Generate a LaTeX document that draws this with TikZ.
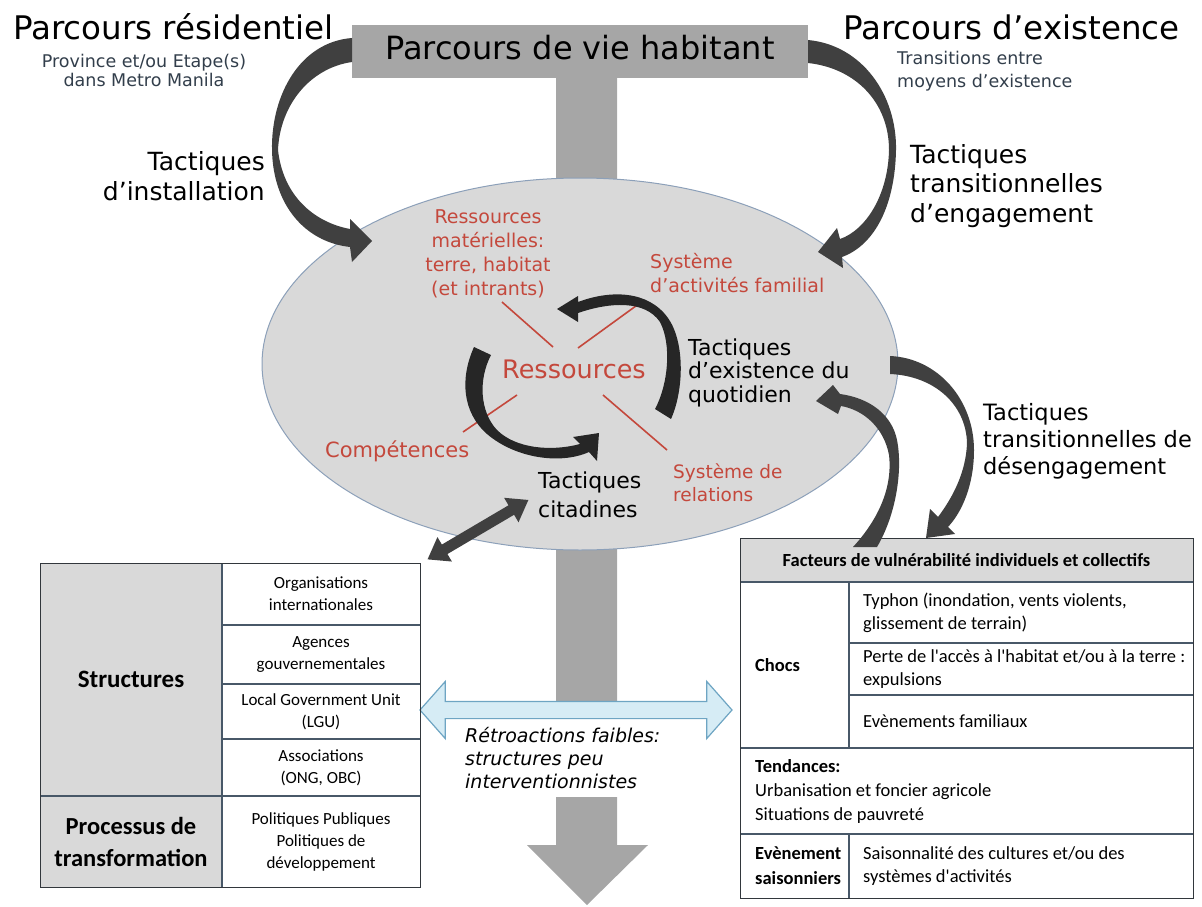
\documentclass[tikz,border=0pt]{standalone}
\usepackage{fontspec}
\setmainfont{DejaVu Sans}
\newfontfamily\tabfont{Carlito}
\usetikzlibrary{shapes.geometric,shapes.arrows,arrows.meta}

\definecolor{stemgray}{RGB}{166,166,166}
\definecolor{arcgray}{RGB}{64,64,64}
\definecolor{loopblack}{RGB}{38,38,38}
\definecolor{ellfill}{RGB}{217,217,217}
\definecolor{ellline}{RGB}{140,160,185}
\definecolor{resred}{RGB}{196,72,60}
\definecolor{subgray}{RGB}{50,62,75}
\definecolor{cellgray}{RGB}{217,217,217}
\definecolor{tabline}{RGB}{72,88,104}
\definecolor{tabdark}{RGB}{50,55,60}
\definecolor{fbblue}{RGB}{214,236,245}
\definecolor{fbline}{RGB}{110,165,195}

\begin{document}
\begin{tikzpicture}
  [x=1pt,y=-1pt,every node/.style={inner sep=0pt},
   bigtitle/.style={font=\fontsize{32.5}{38}\selectfont,anchor=base west},
   subt/.style={font=\fontsize{17.5}{20}\selectfont,text=subgray},
   tact/.style={font=\fontsize{25}{30}\selectfont},
   redlab/.style={text=resred,font=\fontsize{19}{24}\selectfont,anchor=base west,align=left},
   inlab/.style={font=\fontsize{22}{23.5}\selectfont,anchor=base west,align=left},
   band/.style={fill=arcgray},
   loopband/.style={fill=loopblack},
   redline/.style={draw=resred,line width=1.6pt},
   tabgrid/.style={draw=tabline,line width=1.2pt},
   tabbox/.style={draw=tabdark,line width=1.4pt,anchor=north west},
   lcell/.style={font=\tabfont\fontsize{17}{22}\selectfont,align=center},
   rcell/.style={font=\tabfont\fontsize{18.5}{23}\selectfont,align=left,anchor=west}]
  \useasboundingbox (0,0) rectangle (1202,907);

  % main axis
  \fill[stemgray] (556,60) -- (556,845) -- (527,845) -- (587,905) -- (648,845) -- (617,845) -- (617,60) -- cycle;
  \node[ellipse,fill=ellfill,draw=ellline,line width=1pt,minimum width=636,minimum height=372] (ell) at (580,364) {};
  \node[fill=stemgray,minimum width=456,minimum height=53,text height=23,text depth=7,
        font=\fontsize{32}{38}\selectfont] (vie) at (580,51.5) {Parcours de vie habitant};

  % parcours (base = last line)
  \node[bigtitle] (resid) at (13,40) {Parcours résidentiel};
  \node[subt,anchor=base,align=center] (residsub) at (144,87) {Province et/ou Etape(s)\\dans Metro Manila};
  \node[bigtitle] (exist) at (843,40) {Parcours d’existence};
  \node[subt,anchor=base west,align=left,font=\fontsize{17.5}{23}\selectfont] (existsub) at (897,88) {Transitions entre\\moyens d'existence};

  \node[tact,anchor=base east,align=right] (tactinst) at (265,200) {Tactiques\\d’installation};
  \node[tact,anchor=base west,align=left,font=\fontsize{25}{29.5}\selectfont] (tacteng) at (910,222) {Tactiques\\transitionnelles\\d’engagement};
  \node[anchor=base west,align=left,font=\fontsize{22.5}{27}\selectfont] (tactdes) at (983,474) {Tactiques\\transitionnelles de\\désengagement};

  \fill[band] (352,38) .. controls (300,42) and (271,95) .. (272,150) .. controls (273,205) and (305,242) .. (350,247)
    -- (352,262) -- (372,241) -- (350,219) -- (350,229) .. controls (313,222) and (283,195) .. (278,150)
    .. controls (280,105) and (310,68) .. (352,62) -- cycle;
  \fill[band] (808,40) .. controls (862,45) and (897,95) .. (896,150) .. controls (895,205) and (875,245) .. (842,257)
    -- (843,268) -- (818,252) -- (837,228) -- (840,239) .. controls (866,230) and (888,195) .. (889,150)
    .. controls (889,102) and (855,68) .. (808,63) -- cycle;

  % ressources
  \draw[redline] (502,302) -- (553,347) (640,303) -- (578,348) (517,395) -- (463,432) (603,395) -- (667,450);
  \fill[loopband] (578,302) .. controls (610,290) and (648,290) .. (668,318) .. controls (685,342) and (684,390) .. (671,419)
    -- (655,409) .. controls (668,385) and (672,345) .. (660,322) .. controls (645,300) and (610,302) .. (578,313)
    -- (578,322) -- (557,309) -- (578,296) -- cycle;
  \fill[loopband] (474,347) .. controls (460,378) and (462,412) .. (487,434) .. controls (515,458) and (560,465) .. (589,452)
    -- (597,461) -- (599,433) -- (573,437) -- (580,444) .. controls (550,452) and (515,448) .. (497,430)
    .. controls (480,412) and (478,380) .. (491,355) -- cycle;

  \node[redlab,anchor=base,align=center] (resmat) at (488,295) {Ressources\\matérielles:\\terre, habitat\\(et intrants)};
  \node[redlab] (sysact) at (650,292) {Système\\d’activités familial};
  \node[redlab,font=\fontsize{25.5}{30}\selectfont] (ress) at (502,378) {Ressources};
  \node[redlab,font=\fontsize{21}{25}\selectfont] (comp) at (325,457) {Compétences};
  \node[redlab,font=\fontsize{18.5}{23}\selectfont] (sysrel) at (673,501) {Système de\\relations};
  \node[inlab] (tactquot) at (688,402) {Tactiques\\d’existence du\\quotidien};
  \node[inlab,font=\fontsize{22}{29}\selectfont] (citad) at (538,517) {Tactiques\\citadines};

  % retroactions
  \node[fill=white,inner xsep=6,inner ysep=9,anchor=base west,align=left,
        font=\itshape\fontsize{19}{23}\selectfont] (retro) at (459,788) {Rétroactions faibles:\\structures peu\\interventionnistes};
  \node[double arrow,draw=fbline,fill=fbblue,line width=1.2pt,minimum height=312,inner xsep=0,inner ysep=8,
        double arrow head extend=20,double arrow tip angle=97] (fb) at (576,710) {};

  % structures
  \fill[cellgray] (40,563) rectangle (222,887);
  \foreach \y in {625,684,739}
    \draw[tabgrid] (222,\y) -- (420,\y);
  \draw[tabgrid] (40,796) -- (420,796) (222,563) -- (222,887);
  \node[tabbox,minimum width=380,minimum height=324] (tabL) at (40,563) {};
  \node[lcell] (orgint) at (321,594) {Organisations\\internationales};
  \node[lcell] (agences) at (321,654.5) {Agences\\gouvernementales};
  \node[lcell] (lgu) at (321,711.5) {Local Government Unit\\(LGU)};
  \node[lcell] (assoc) at (321,767.5) {Associations\\(ONG, OBC)};
  \node[lcell] (polit) at (321,841.5) {Politiques Publiques\\Politiques de\\développement};
  \node[lcell,font=\tabfont\bfseries\fontsize{25}{32}\selectfont] (struct) at (131,679.5) {Structures};
  \node[lcell,font=\tabfont\bfseries\fontsize{24.5}{32}\selectfont] (proc) at (131,841.5) {Processus de\\transformation};

  % vulnerabilite
  \fill[cellgray] (740,538) rectangle (1193,582);
  \draw[tabgrid] (740,582) -- (1193,582) (740,748) -- (1193,748) (740,834) -- (1193,834)
    (849,582) -- (849,748) (849,834) -- (849,898);
  \foreach \y in {643,695}
    \draw[tabgrid] (849,\y) -- (1193,\y);
  \node[tabbox,minimum width=453,minimum height=360] (tabR) at (740,538) {};
  \node[font=\tabfont\bfseries\fontsize{18.5}{23}\selectfont] (facteurs) at (966.5,560) {Facteurs de vulnérabilité individuels et collectifs};
  \node[rcell,font=\tabfont\bfseries\fontsize{18.5}{23}\selectfont] (chocs) at (755,665) {Chocs};
  \node[rcell] (typhon) at (863,612.5) {Typhon (inondation, vents violents,\\glissement de terrain)};
  \node[rcell] (perte) at (863,669) {Perte de l'accès à l'habitat et/ou à la terre :\\expulsions};
  \node[rcell] (famil) at (863,721.5) {Evènements familiaux};
  \node[rcell,font=\tabfont\fontsize{18.5}{24}\selectfont] (tend) at (755,791) {\textbf{Tendances:}\\Urbanisation et foncier agricole\\Situations de pauvreté};
  \node[rcell,font=\tabfont\bfseries\fontsize{18.5}{25}\selectfont] (saison) at (755,866) {Evènement\\saisonniers};
  \node[rcell] (saisonn) at (863,866) {Saisonnalité des cultures et/ou des\\systèmes d'activités};

  % transitions
  \fill[band] (890,356) .. controls (938,358) and (974,400) .. (974,450) .. controls (974,485) and (962,512) .. (948,527)
    -- (955,534) -- (926,538) -- (930,509) -- (938,517) .. controls (953,497) and (966,472) .. (967,443)
    .. controls (966,405) and (935,376) .. (890,374) -- cycle;
  \fill[band] (877,547) .. controls (896,515) and (903,470) .. (897,440) .. controls (892,415) and (870,398) .. (840,394)
    -- (833,385) -- (816,401) -- (838,414) -- (841,406) .. controls (864,410) and (884,428) .. (889,455)
    .. controls (893,490) and (876,522) .. (853,547) -- cycle;
  \draw[arcgray,line width=11pt,{Triangle[length=20pt,width=27pt]}-{Triangle[length=20pt,width=27pt]},
        shorten <=7pt,shorten >=11pt] (tabL.north east) -- (citad.west);
\end{tikzpicture}
\end{document}
